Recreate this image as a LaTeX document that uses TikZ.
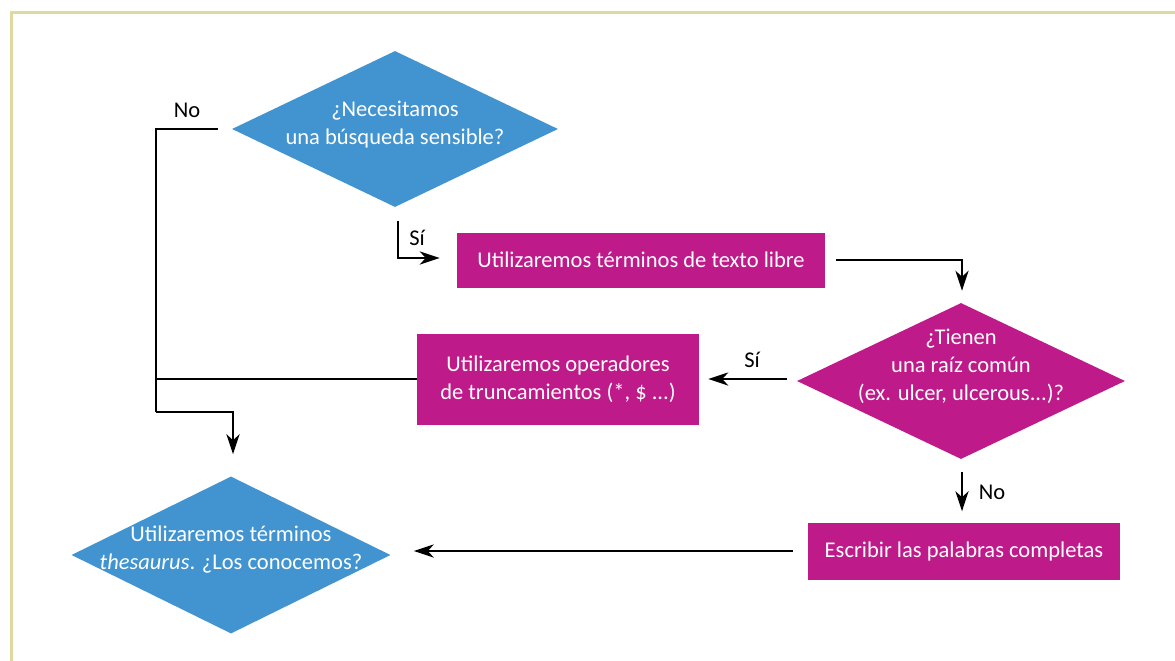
\documentclass[tikz,border=0pt]{standalone}
\usepackage{fontspec}
\setmainfont{Carlito}
\usetikzlibrary{shapes.geometric,arrows.meta,calc}
\definecolor{fblue}{RGB}{66,148,208}
\definecolor{fmag}{RGB}{190,26,138}
\definecolor{fborder}{RGB}{224,216,160}
\tikzset{
  base/.style={font=\fontsize{22.5}{28}\selectfont},
  bdiam/.style={diamond,fill=fblue,inner sep=0pt,minimum width=#1},
  mdiam/.style={diamond,fill=fmag,inner sep=0pt,minimum width=#1},
  mbox/.style={rectangle,fill=fmag,inner sep=0pt,text=white,base,align=center},
  dtext/.style={text=white,base,align=center,inner sep=0pt},
  lbl/.style={text=black,base,inner sep=0pt},
  conn/.style={line width=2.8pt,black},
  arr/.style={conn,-{Stealth[length=20pt,width=13pt,inset=6pt]}}
}
\begin{document}
\begin{tikzpicture}[x=1pt,y=-1pt]
\useasboundingbox (0,0) rectangle (1175,661);
\draw[fborder,line width=3pt] (11,13) rectangle (1195,690);
% shapes
\node[bdiam=326pt,minimum height=156pt] (d1) at (395,129) {};
\node[dtext] (t1) at (395,125) {¿Necesitamos\\una búsqueda sensible?};
\node[mbox,minimum width=368pt,minimum height=55pt] (b1) at (641,260) {Utilizaremos términos de texto libre};
\node[mdiam=328pt,minimum height=156pt] (d2) at (961,381) {};
\node[dtext] (t2) at (961,366) {¿Tienen\\una raíz común\\(ex. ulcer, ulcerous...)?};
\node[mbox,minimum width=282pt,minimum height=91pt] (b2) at (558,379) {Utilizaremos operadores\\de truncamientos (*, \$ ...)};
\node[mbox,minimum width=312pt,minimum height=57pt] (b3) at (964,551) {Escribir las palabras completas};
\node[bdiam=319pt,minimum height=157pt] (d3) at (231,555) {};
\node[dtext] (t3) at (231,550) {Utilizaremos términos\\\textit{thesaurus}. ¿Los conocemos?};
% corner coordinates
\coordinate (c1) at (156,129);
\coordinate (c2) at (156,412);
% connectors
\draw[conn,line join=miter] ([xshift=-14pt]d1.west) -- (c1) -- (c2);
\draw[arr,line join=miter] (c2) -| ([yshift=22pt,xshift=2pt]d3.north);
\draw[conn] (b2.west) -- (b2.west -| c1);
\draw[arr,line join=miter] ([xshift=3pt,yshift=-14pt]d1.south) |- ([xshift=-17pt,yshift=2pt]b1.west);
\draw[arr,line join=miter] ([xshift=11pt]b1.east) -| ([yshift=12pt,xshift=1pt]d2.north);
\draw[arr] ([xshift=-10pt,yshift=2pt]d2.west) -- ([xshift=9pt]b2.east);
\draw[arr] ([xshift=1pt,yshift=-13pt]d2.south) -- ([xshift=-2pt,yshift=11pt]b3.north);
\draw[arr] ([xshift=-15pt]b3.west) -- ([xshift=23pt,yshift=4pt]d3.east);
% labels
\node[lbl] (l1) at (187,110) {No};
\node[lbl] (l2) at (417,238) {Sí};
\node[lbl] (l3) at (752,360) {Sí};
\node[lbl] (l4) at (992,492) {No};
\end{tikzpicture}
\end{document}
